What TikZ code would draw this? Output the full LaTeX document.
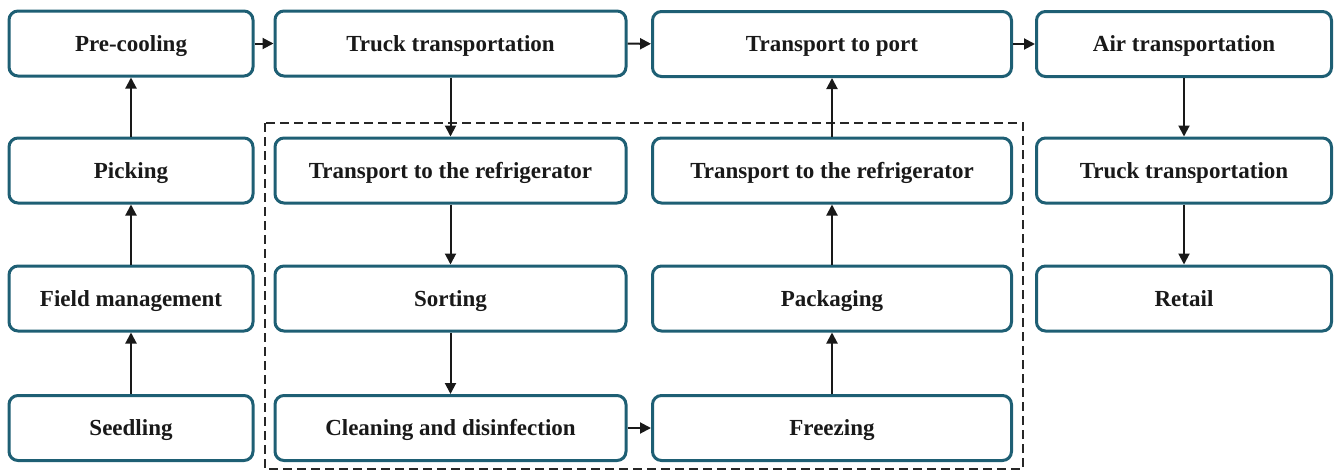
\documentclass[tikz,border=0pt]{standalone}
\usepackage{fontspec}
\setmainfont{Liberation Serif}
\usetikzlibrary{arrows.meta}
\definecolor{boxc}{HTML}{1E5F74}
\tikzset{
  box/.style={draw=boxc, line width=3pt, rounded corners=9pt, fill=white,
    minimum height=65pt, inner sep=0pt, text height=16pt, text depth=1pt,
    font=\fontsize{23}{26}\selectfont\bfseries, text=black!90},
  conn/.style={line width=2pt, draw=black!90, -{Triangle[length=11pt,width=11pt]}},
  group/.style={draw=black!85, line width=1.6pt, dash pattern=on 9pt off 5pt}
}
\begin{document}
\begin{tikzpicture}[x=1pt,y=-1pt]
\useasboundingbox (0,0) rectangle (1336,471);
\draw[group] (265,123) rectangle (1023,469);
% column 1
\node[box, minimum width=244pt] (pre) at (131,43.5) {Pre-cooling};
\node[box, minimum width=244pt] (pick) at (131,170.5) {Picking};
\node[box, minimum width=244pt] (field) at (131,298.5) {Field management};
\node[box, minimum width=244pt] (seed) at (131,428) {Seedling};
% column 2
\node[box, minimum width=351pt] (truck1) at (450.5,43.5) {Truck transportation};
\node[box, minimum width=351pt] (fridge1) at (450.5,170.5) {Transport to the refrigerator};
\node[box, minimum width=351pt] (sort) at (450.5,298.5) {Sorting};
\node[box, minimum width=351pt] (clean) at (450.5,428) {Cleaning and disinfection};
% column 3
\node[box, minimum width=359pt] (port) at (832,44) {Transport to port};
\node[box, minimum width=359pt] (fridge2) at (832,170.5) {Transport to the refrigerator};
\node[box, minimum width=359pt] (pack) at (832,298.5) {Packaging};
\node[box, minimum width=359pt] (freeze) at (832,428) {Freezing};
% column 4
\node[box, minimum width=295pt] (air) at (1184,44) {Air transportation};
\node[box, minimum width=295pt] (truck2) at (1184,170.5) {Truck transportation};
\node[box, minimum width=295pt] (retail) at (1184,298.5) {Retail};
% connectors
\draw[conn] (seed) -- (field);
\draw[conn] (field) -- (pick);
\draw[conn] (pick) -- (pre);
\draw[conn] (pre) -- (truck1);
\draw[conn] (truck1) -- (port);
\draw[conn] (port) -- (air);
\draw[conn] (truck1) -- (fridge1);
\draw[conn] (fridge1) -- (sort);
\draw[conn] (sort) -- (clean);
\draw[conn] (clean) -- (freeze);
\draw[conn] (freeze) -- (pack);
\draw[conn] (pack) -- (fridge2);
\draw[conn] (fridge2) -- (port);
\draw[conn] (air) -- (truck2);
\draw[conn] (truck2) -- (retail);
\end{tikzpicture}
\end{document}
